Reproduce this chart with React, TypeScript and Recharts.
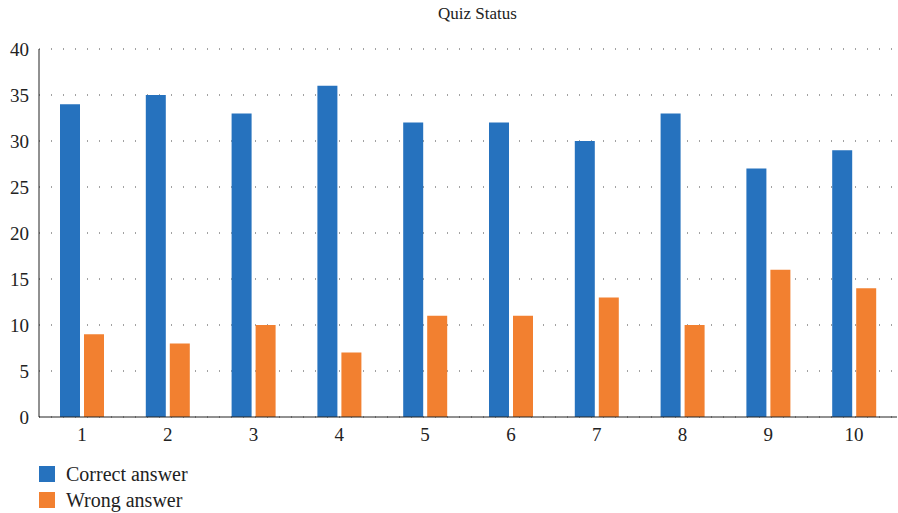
import React from 'react'
import { BarChart, Bar, XAxis, YAxis, CartesianGrid } from 'recharts'

const quizzes = ['1', '2', '3', '4', '5', '6', '7', '8', '9', '10']
const correctAnswers = [34, 35, 33, 36, 32, 32, 30, 33, 27, 29]
const wrongAnswers = [9, 8, 10, 7, 11, 11, 13, 10, 16, 14]
const yTicks = [0, 5, 10, 15, 20, 25, 30, 35, 40]

const BLUE = '#2672be'
const ORANGE = '#f28030'
const FONT = '"Liberation Serif", "DejaVu Serif", serif'

const data = quizzes.map((q, i) => ({
  quiz: q,
  correct: correctAnswers[i],
  wrong: wrongAnswers[i],
}))

const legendItems = [
  { label: 'Correct answer', color: BLUE },
  { label: 'Wrong answer', color: ORANGE },
]

export default function App() {
  return (
    <div style={{ position: 'absolute', left: 0, top: 0, width: 898, height: 513, background: '#fff' }}>
      <div
        style={{
          position: 'absolute',
          top: 4,
          left: 0,
          width: 955,
          textAlign: 'center',
          fontFamily: FONT,
          fontSize: 17,
          color: '#222',
        }}
      >
        Quiz Status
      </div>
      <BarChart
        width={898}
        height={513}
        data={data}
        margin={{ top: 49, right: 1, left: 0, bottom: 66 }}
        barGap={4}
        barCategoryGap={21}
      >
        <CartesianGrid vertical={false} stroke="#444" strokeDasharray="1 11" />
        <XAxis
          dataKey="quiz"
          height={30}
          tickLine={false}
          tickSize={0}
          tickMargin={11}
          stroke="#222"
          tick={{ fill: '#222', fontSize: 19, fontFamily: FONT }}
        />
        <YAxis
          width={39}
          domain={[0, 40]}
          ticks={yTicks}
          tickLine={false}
          tickSize={0}
          tickMargin={10}
          stroke="#222"
          tick={{ fill: '#222', fontSize: 19, fontFamily: FONT }}
        />
        <Bar dataKey="correct" name="Correct answer" fill={BLUE} barSize={20} isAnimationActive={false} />
        <Bar dataKey="wrong" name="Wrong answer" fill={ORANGE} barSize={20} isAnimationActive={false} />
      </BarChart>
      <div style={{ position: 'absolute', left: 39, top: 461, fontFamily: FONT, fontSize: 20, color: '#222' }}>
        {legendItems.map((item) => (
          <div key={item.label} style={{ display: 'flex', alignItems: 'center', height: 26 }}>
            <span style={{ width: 16, height: 16, background: item.color, display: 'inline-block', marginRight: 11 }} />
            <span>{item.label}</span>
          </div>
        ))}
      </div>
    </div>
  )
}
